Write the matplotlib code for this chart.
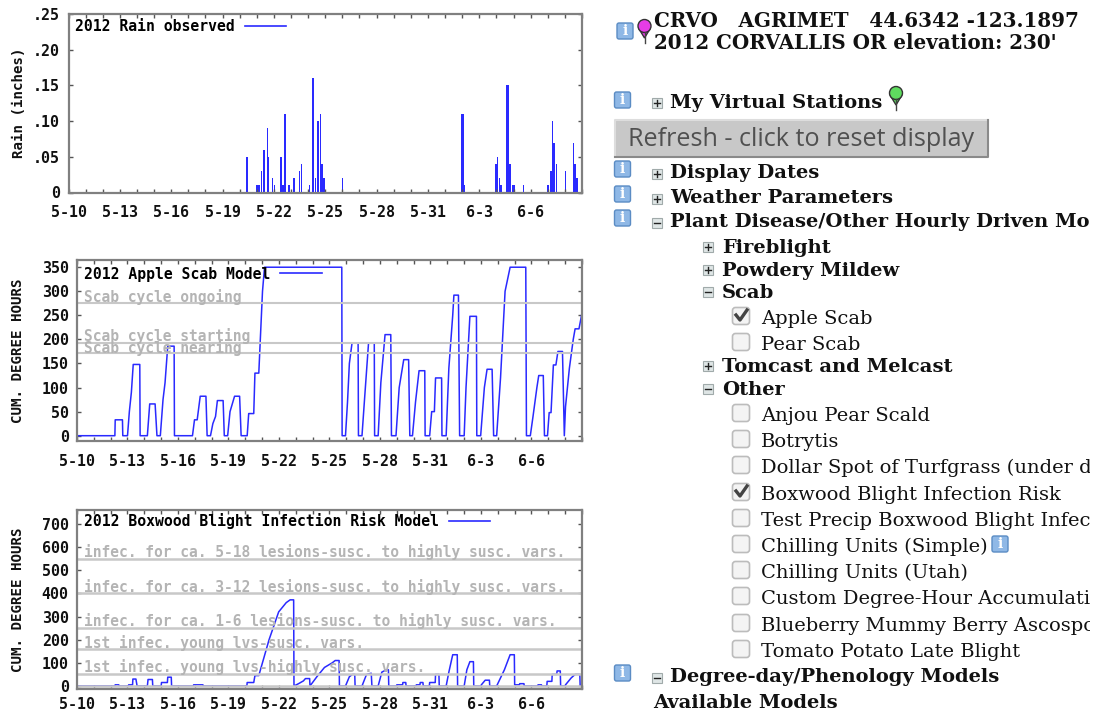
import matplotlib
matplotlib.use("Agg")
import matplotlib.pyplot as plt
from matplotlib.patches import FancyBboxPatch, Rectangle, Circle, Polygon

W, H = 1095, 713
MONO = "DejaVu Sans Mono"
SERIF = "DejaVu Serif"
BLUE = "#2a2aff"
GRAY = "#c8c8c8"
TXT_GRAY = "#b4b4b4"

date_labels = ["5-10", "5-13", "5-16", "5-19", "5-22", "5-25", "5-28", "5-31", "6-3", "6-6"]

rain_days = [10.42, 10.47, 11.0, 11.14, 11.28, 11.41, 11.46, 11.63, 11.68, 11.92, 12.04, 12.42, 12.53,
             12.64, 12.69, 12.87, 13.18, 13.49, 13.6, 14.09, 14.27, 14.32, 14.43, 14.56, 14.61, 14.72,
             14.81, 14.94, 16.0, 23.0, 23.04, 23.11, 24.99, 25.06, 25.17, 25.28, 25.63, 25.68, 25.79,
             25.95, 26.04, 26.58, 28.0, 28.19, 28.28, 28.37, 28.5, 29.04, 29.49, 29.6, 29.71]
rain_vals = [.05, .05, .01, .01, .03, .06, .06, .09, .05, .02, .01, .05, .01,
             .11, .11, .01, .02, .03, .04, .01, .16, .16, .02, .10, .10, .11,
             .04, .02, .02, .11, .11, .01, .04, .05, .02, .01, .15, .15, .04,
             .01, .01, .01, .01, .03, .10, .07, .04, .03, .07, .04, .02]

scab_days = [0, 2.25, 2.27, 2.70, 2.72, 3.0, 3.11, 3.23, 3.34, 3.73, 3.75, 4.18, 4.32, 4.64, 4.75,
             4.95, 5.11, 5.23, 5.39, 5.77, 5.79, 6.86, 6.98, 7.14, 7.32, 7.66, 7.73, 7.93, 8.07, 8.23,
             8.34, 8.68, 8.75, 8.95, 9.09, 9.36, 9.66, 9.75, 10.11, 10.2, 10.5, 10.57, 10.8, 10.89, 11.02,
             11.14, 15.73, 15.75, 15.95, 16.07, 16.18, 16.34, 16.7, 16.72, 16.93, 17.09, 17.32, 17.66, 17.68,
             17.89, 18.05, 18.3, 18.64, 18.68, 18.95, 19.14, 19.41, 19.7, 19.77, 19.93, 20.11, 20.32, 20.66,
             20.68, 20.95, 21.07, 21.23, 21.3, 21.66, 21.68, 21.93, 22.09, 22.32, 22.39, 22.66, 22.73, 23.0,
             23.11, 23.34, 23.73, 23.75, 23.98, 24.2, 24.36, 24.66, 24.75, 24.93, 25.16, 25.43, 25.73, 26.66,
             26.7, 26.93, 27.09, 27.32, 27.43, 27.7, 27.77, 27.95, 28.05, 28.16, 28.3, 28.45, 28.57, 28.84,
             28.95, 29.02, 29.25, 29.48, 29.59, 29.82, 30]
scab_vals = [0, 0, 33, 33, 0, 0, 50, 90, 148, 148, 0, 0, 66, 66, 0,
             0, 75, 110, 186, 186, 0, 0, 33, 33, 82, 82, 0, 0, 25, 40,
             73, 73, 0, 0, 50, 82, 82, 0, 0, 46, 46, 130, 130, 200, 300,
             350, 350, 0, 0, 70, 150, 193, 193, 0, 0, 80, 193, 193, 0,
             0, 110, 210, 210, 0, 0, 100, 158, 158, 0, 0, 70, 135, 135,
             0, 0, 50, 50, 120, 120, 0, 0, 140, 250, 292, 292, 0, 0,
             100, 248, 248, 0, 0, 100, 138, 138, 0, 0, 120, 300, 350, 350,
             0, 0, 40, 100, 125, 125, 0, 0, 48, 48, 147, 147, 175, 175,
             0, 60, 140, 200, 222, 222, 255]
scab_levels = [275, 193, 171]
scab_notes = ["Scab cycle ongoing", "Scab cycle starting", "Scab cycle nearing"]
scab_note_y = [288, 207, 182]

box_days = [0, 2.25, 2.27, 2.48, 2.5, 3.05, 3.07, 3.3, 3.32, 3.5, 3.57, 4.18, 4.22, 4.48, 4.5, 5.0, 5.02,
            5.37, 5.39, 5.6, 5.62, 6.91, 6.93, 7.48, 7.5, 10.09, 10.11, 10.5, 10.57, 10.8, 11.41, 11.98,
            12.43, 12.66, 12.87, 12.89, 13.16, 13.45, 13.57, 13.82, 13.84, 14.25, 14.7, 15.16, 15.34, 15.57,
            15.59, 15.95, 16.18, 16.36, 16.5, 16.52, 16.93, 17.2, 17.48, 17.52, 17.89, 18.11, 18.39, 18.5,
            18.52, 18.98, 19.0, 19.34, 19.36, 19.53, 19.55, 20.14, 20.16, 20.37, 20.39, 20.55, 20.57, 20.93,
            20.95, 21.28, 21.3, 21.5, 21.52, 21.93, 22.09, 22.32, 22.59, 22.61, 23.0, 23.16, 23.34, 23.55,
            23.57, 24.0, 24.02, 24.25, 24.5, 24.52, 24.93, 25.39, 25.73, 25.98, 26.0, 26.28, 26.3, 26.55,
            26.57, 27.37, 27.39, 27.59, 27.61, 27.91, 27.93, 28.21, 28.23, 28.5, 28.52, 28.71, 28.73, 29.0,
            29.02, 29.36, 29.59, 29.87, 29.89, 30]
box_vals = [0, 0, 5, 5, 0, 0, 5, 5, 30, 30, 0, 0, 28, 28, 0, 0, 15,
            15, 38, 38, 0, 0, 5, 5, 0, 0, 15, 15, 45, 45, 200, 320,
            360, 372, 372, 0, 10, 22, 32, 32, 0, 40, 80, 100, 110, 110,
            0, 0, 40, 50, 50, 0, 0, 50, 55, 0, 0, 60, 70, 70,
            0, 0, 5, 5, 15, 15, 0, 0, 5, 5, 15, 15, 0, 0,
            15, 15, 50, 50, 0, 0, 60, 135, 135, 0, 0, 70, 105, 105,
            0, 0, 5, 25, 25, 0, 0, 70, 135, 135, 5, 5, 10, 10,
            0, 0, 5, 5, 0, 0, 20, 20, 50, 50, 65, 65, 0, 0,
            5, 35, 50, 50, 0, 0]
box_levels = [548, 400, 250, 158, 52, 1]
box_notes = ["infec. for ca. 5-18 lesions-susc. to highly susc. vars.",
             "infec. for ca. 3-12 lesions-susc. to highly susc. vars.",
             "infec. for ca. 1-6 lesions-susc. to highly susc. vars.",
             "1st infec. young lvs-susc. vars.",
             "1st infec. young lvs-highly susc. vars."]
box_note_y = [579, 428, 281, 186, 82]


def make_axes(fig, left, top, right, bottom, xpad=9):
    ax = fig.add_axes([left / W, 1 - bottom / H, (right - left) / W, (bottom - top) / H])
    ax.set_xlim(0, 30)
    ax.set_xticks(range(0, 30, 3))
    ax.set_xticklabels(date_labels)
    ax.set_xticks(range(0, 31), minor=True)
    ax.tick_params(which="both", direction="in", top=True, right=True, color="#555555", length=3, width=1)
    ax.tick_params(axis="x", labelsize=10.8, labelcolor="#111111", pad=xpad)
    ax.tick_params(axis="y", labelsize=10.8, labelcolor="#111111", pad=6)
    for lab in ax.get_xticklabels():
        lab.set_family(MONO)
        lab.set_weight("bold")
    for s in ax.spines.values():
        s.set_color("#808080")
        s.set_linewidth(1.6)
    ax.set_zorder(2)
    return ax


def style_ticks(ax, ticks, labels, ylabel, label_x):
    ax.set_yticks(ticks)
    ax.set_yticklabels(labels, family=MONO, weight="bold", fontsize=10.8)
    ax.set_ylabel(ylabel, family=MONO, weight="bold", fontsize=10.2, color="#111111")
    ax.yaxis.set_label_coords(label_x, 0.5)


def add_key(ax, label, lift=0.0):
    ax.plot([], [], color=BLUE, lw=1.2, label=label)
    ax.legend(loc="upper left", bbox_to_anchor=(0, 1 + lift), frameon=False, markerfirst=False,
              handlelength=2.8, handletextpad=0.7, borderaxespad=0.1, borderpad=0.35,
              prop={"family": MONO, "weight": "bold", "size": 10.6})


fig = plt.figure(figsize=(W / 100, H / 100), dpi=100, facecolor="white")

ax1 = make_axes(fig, 68.5, 14, 582, 192.5)
ax1.set_ylim(0, 0.25)
style_ticks(ax1, [0, .05, .10, .15, .20, .25], ["0", ".05", ".10", ".15", ".20", ".25"], "Rain (inches)", -0.083)
ax1.bar(rain_days, rain_vals, width=0.09, color=BLUE, linewidth=0)
add_key(ax1, "2012 Rain observed", lift=0.011)

ax2 = make_axes(fig, 77, 260, 582, 441)
ax2.set_ylim(-11, 365)
style_ticks(ax2, range(0, 351, 50), [str(v) for v in range(0, 351, 50)], "CUM. DEGREE HOURS", -0.102)
ax2.plot(scab_days, scab_vals, color=BLUE, lw=1.1)
for level in scab_levels:
    ax2.axhline(level, color=GRAY, lw=1.5)
for note, y in zip(scab_notes, scab_note_y):
    ax2.text(0.4, y, note, family=MONO, weight="bold", fontsize=10.55, color=TXT_GRAY, va="center")
add_key(ax2, "2012 Apple Scab Model")

ax3 = make_axes(fig, 77, 510, 582, 689, xpad=6)
ax3.set_ylim(-13, 760)
style_ticks(ax3, range(0, 701, 100), [str(v) for v in range(0, 701, 100)], "CUM. DEGREE HOURS", -0.102)
ax3.plot(box_days, box_vals, color=BLUE, lw=1.1)
for level in box_levels:
    ax3.axhline(level, color=GRAY, lw=1.8)
for note, y in zip(box_notes, box_note_y):
    ax3.text(0.4, y, note, family=MONO, weight="bold", fontsize=10.55, color=TXT_GRAY, va="center")
add_key(ax3, "2012 Boxwood Blight Infection Risk Model", lift=0.022)

# right hand panel, drawn in pixel coordinates
ui = fig.add_axes([0, 0, 1090 / W, 1], zorder=1)
ui.set_xlim(0, 1090)
ui.set_ylim(H, 0)
ui.axis("off")


def label(x, y, s, bold=True, size=14):
    ui.text(x, y + 1, s, family=SERIF, weight="bold" if bold else "normal", fontsize=size,
            color="#111111", va="center", clip_on=True)


def info_icon(x, y):
    ui.add_patch(FancyBboxPatch((x - 8, y - 8), 16, 16, boxstyle="round,pad=0,rounding_size=2",
                                fc="#8fb8e6", ec="#5b8cc4", lw=1))
    ui.text(x, y, "i", color="white", weight="bold", family=SERIF, fontsize=10, ha="center", va="center")


def tree_icon(x, y, expanded):
    ui.add_patch(Rectangle((x - 5, y - 5), 10, 10, fc="#dfe6e6", ec="#a0aaaa", lw=0.8))
    ui.plot([x - 3, x + 3], [y, y], color="#222222", lw=1)
    if not expanded:
        ui.plot([x, x], [y - 3, y + 3], color="#222222", lw=1)


def checkbox(x, y, checked):
    ui.add_patch(FancyBboxPatch((x - 8.5, y - 8.5), 17, 17, boxstyle="round,pad=0,rounding_size=3",
                                fc="#f4f4f4", ec="#bcbcbc", lw=1.2))
    if checked:
        ui.plot([x - 5, x - 1, x + 6], [y - 1, y + 4, y - 6], color="#444444", lw=2.4)


def pin(x, y, color):
    ui.plot([x, x], [y + 6, y + 17], color="#444444", lw=1)
    ui.add_patch(Polygon([(x - 6, y + 2), (x + 6, y + 2), (x, y + 12)], fc=color, ec="#333333", lw=1))
    ui.add_patch(Circle((x, y), 6.5, fc=color, ec="#333333", lw=1))


info_icon(625, 31)
pin(644.5, 26, "#e63ce6")
label(654, 20, "CRVO   AGRIMET   44.6342 -123.1897", size=14.3)
label(654, 42, "2012 CORVALLIS OR elevation: 230'", size=14.3)

info_icon(622.5, 100)
tree_icon(656.5, 103, False)
label(670, 102, "My Virtual Stations")
pin(896, 93, "#5fdc5f")

ui.add_patch(Rectangle((615, 120), 372, 37, fc="#c8c8c8", ec="none"))
ui.plot([615, 615, 988], [157, 120, 120], color="#dddddd", lw=1.5)
ui.plot([988, 988, 615], [120, 157, 157], color="#8a8a8a", lw=1.5)
ui.text(628, 139.5, "Refresh - click to reset display", family="Open Sans", fontsize=18.1,
        color="#505050", va="center")

for y, s, exp in [(172, "Display Dates", False), (197, "Weather Parameters", False),
                  (221, "Plant Disease/Other Hourly Driven Mo", True),
                  (676, "Degree-day/Phenology Models", True)]:
    info_icon(622.5, y - 3)
    tree_icon(656.5, y + 2, exp)
    label(670, y, s)

for y, s, exp in [(247, "Fireblight", False), (270, "Powdery Mildew", False), (292, "Scab", True),
                  (366, "Tomcast and Melcast", False), (389, "Other", True)]:
    tree_icon(708, y, exp)
    label(722, y, s)

for y, s, chk in [(318, "Apple Scab", True), (344, "Pear Scab", False), (415, "Anjou Pear Scald", False),
                  (441, "Botrytis", False), (467, "Dollar Spot of Turfgrass (under d", False),
                  (494, "Boxwood Blight Infection Risk", True), (520, "Test Precip Boxwood Blight Infec", False),
                  (546, "Chilling Units (Simple)", False), (572, "Chilling Units (Utah)", False),
                  (598, "Custom Degree-Hour Accumulati", False), (625, "Blueberry Mummy Berry Ascospo", False),
                  (651, "Tomato Potato Late Blight", False)]:
    checkbox(741, y - 2, chk)
    label(761, y, s, bold=False)

info_icon(1000, 544)
label(653, 702, "Available Models")

fig.savefig("out.png", dpi=100)
